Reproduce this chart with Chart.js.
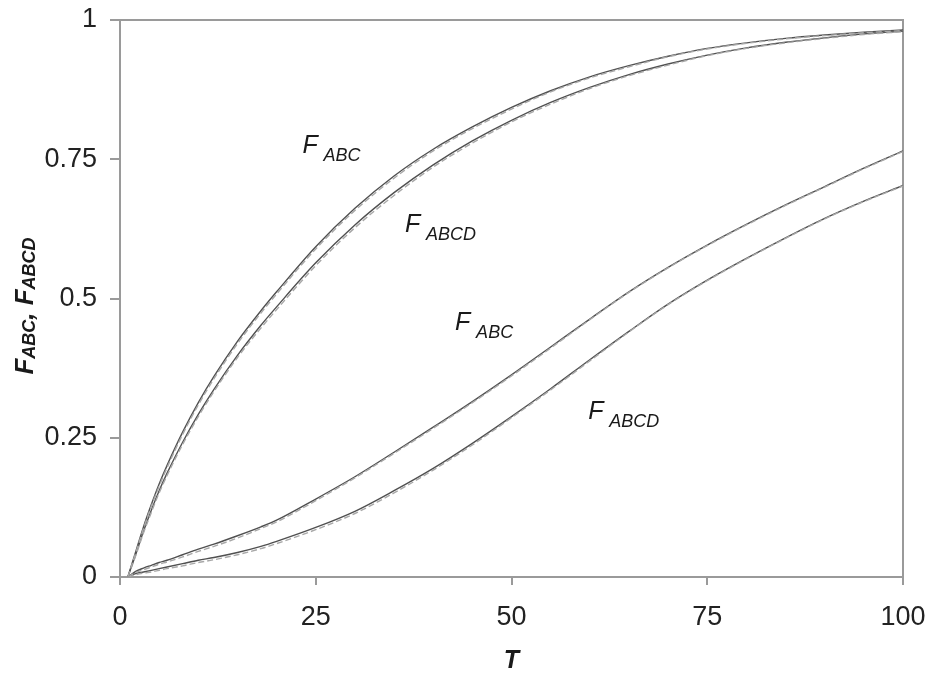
<!DOCTYPE html>
<html>
<head>
<meta charset="utf-8">
<script src="https://cdn.jsdelivr.net/npm/chart.js@4.4.1/dist/chart.umd.min.js"></script>
<style>
  html, body { margin: 0; padding: 0; background: #ffffff; }
  #wrap { width: 925px; height: 675px; position: relative; }
</style>
</head>
<body>
<div id="wrap"><canvas id="c" width="925" height="675"></canvas></div>
<script>
// ---- Data ----
const tValues = [1, 2, 3, 4, 5, 6, 8, 10, 12, 15, 18, 20, 25, 30, 35, 40, 45, 50, 55, 60, 65, 70, 75, 80, 85, 90, 95, 100];

const upperAbcSolid  = [0, 0.045, 0.090, 0.130, 0.167, 0.200, 0.260, 0.313, 0.360, 0.423, 0.478, 0.512, 0.593, 0.662, 0.720, 0.768, 0.808, 0.843, 0.873, 0.898, 0.918, 0.935, 0.949, 0.959, 0.967, 0.973, 0.978, 0.982];
const upperAbcDashed = [0, 0.043, 0.087, 0.127, 0.163, 0.196, 0.256, 0.309, 0.356, 0.419, 0.474, 0.508, 0.589, 0.658, 0.716, 0.765, 0.805, 0.840, 0.871, 0.896, 0.916, 0.934, 0.948, 0.958, 0.966, 0.972, 0.977, 0.981];

const upperAbcdSolid  = [0, 0.040, 0.082, 0.120, 0.155, 0.186, 0.242, 0.292, 0.337, 0.398, 0.452, 0.485, 0.564, 0.632, 0.690, 0.740, 0.783, 0.820, 0.852, 0.879, 0.902, 0.921, 0.937, 0.950, 0.960, 0.968, 0.975, 0.980];
const upperAbcdDashed = [0, 0.038, 0.079, 0.116, 0.151, 0.182, 0.238, 0.288, 0.333, 0.394, 0.447, 0.480, 0.559, 0.627, 0.685, 0.736, 0.779, 0.817, 0.849, 0.877, 0.900, 0.919, 0.936, 0.949, 0.959, 0.967, 0.974, 0.979];

const lowerAbcSolid  = [0, 0.010, 0.016, 0.021, 0.026, 0.030, 0.040, 0.050, 0.059, 0.074, 0.090, 0.102, 0.140, 0.180, 0.224, 0.269, 0.315, 0.363, 0.413, 0.463, 0.512, 0.556, 0.596, 0.633, 0.668, 0.701, 0.734, 0.765];
const lowerAbcDashed = [0, 0.008, 0.013, 0.018, 0.023, 0.027, 0.036, 0.046, 0.055, 0.070, 0.087, 0.099, 0.137, 0.178, 0.222, 0.267, 0.313, 0.361, 0.411, 0.462, 0.511, 0.555, 0.595, 0.632, 0.667, 0.700, 0.733, 0.764];

const lowerAbcdSolid  = [0, 0.006, 0.009, 0.012, 0.015, 0.018, 0.024, 0.030, 0.035, 0.044, 0.055, 0.064, 0.089, 0.118, 0.155, 0.195, 0.240, 0.288, 0.338, 0.390, 0.441, 0.490, 0.533, 0.572, 0.609, 0.644, 0.675, 0.703];
const lowerAbcdDashed = [0, 0.004, 0.007, 0.009, 0.012, 0.015, 0.020, 0.026, 0.031, 0.040, 0.051, 0.060, 0.085, 0.114, 0.151, 0.192, 0.237, 0.286, 0.336, 0.388, 0.440, 0.489, 0.532, 0.571, 0.608, 0.643, 0.674, 0.702];

const xTickLabels = ['0', '25', '50', '75', '100'];
const yTickLabels = ['0', '0.25', '0.5', '0.75', '1'];
const xTickValues = [0, 25, 50, 75, 100];
const yTickValues = [0, 0.25, 0.5, 0.75, 1];

const curveLabelMain = ['F', 'F', 'F', 'F'];
const curveLabelSub  = ['ABC', 'ABCD', 'ABC', 'ABCD'];
const curveLabelT    = [23.3, 36.4, 42.8, 59.8];
const curveLabelF    = [0.761, 0.620, 0.443, 0.283];

// ---- Build chart ----
const FONT = '"Liberation Sans", Arial, Helvetica, sans-serif';

function pts(arr) { return tValues.map((t, i) => ({ x: t, y: arr[i] })); }
function solid(arr, label) {
  return { label, data: pts(arr), showLine: true, borderColor: '#505050', borderWidth: 1.4,
           pointRadius: 0, fill: false, cubicInterpolationMode: 'monotone' };
}
function dashed(arr, label) {
  return { label, data: pts(arr), showLine: true, borderColor: '#a8a8a8', borderWidth: 1.4,
           borderDash: [6, 3], pointRadius: 0, fill: false, cubicInterpolationMode: 'monotone' };
}

const framePlugin = {
  id: 'frame',
  beforeDatasetsDraw(chart) {
    const { ctx, chartArea: a } = chart;
    ctx.save();
    ctx.strokeStyle = '#9a9a9a';
    ctx.lineWidth = 2;
    ctx.strokeRect(a.left, a.top, a.right - a.left, a.bottom - a.top);
    ctx.restore();
  }
};

const textPlugin = {
  id: 'texts',
  afterDraw(chart) {
    const { ctx, scales } = chart;
    const xs = scales.x, ys = scales.y;
    ctx.save();
    ctx.fillStyle = '#1a1a1a';
    ctx.textBaseline = 'alphabetic';
    ctx.textAlign = 'left';
    // curve annotations
    for (let i = 0; i < curveLabelMain.length; i++) {
      const px = xs.getPixelForValue(curveLabelT[i]);
      const py = ys.getPixelForValue(curveLabelF[i]);
      ctx.font = 'italic 25px ' + FONT;
      ctx.fillText(curveLabelMain[i], px, py);
      ctx.font = 'italic 18px ' + FONT;
      ctx.fillText(curveLabelSub[i], px + 21, py + 8);
    }
    // x axis title
    ctx.font = 'italic bold 25px ' + FONT;
    ctx.textAlign = 'center';
    ctx.fillText('T', (xs.left + xs.right) / 2, 668);
    // y axis title (rotated) with subscripts
    const parts = [
      { t: 'F', big: true }, { t: 'ABC', big: false }, { t: ', ', big: true },
      { t: 'F', big: true }, { t: 'ABCD', big: false }
    ];
    const fBig = 'italic bold 26px ' + FONT;
    const fSmall = 'italic bold 18px ' + FONT;
    let total = 0;
    parts.forEach(p => { ctx.font = p.big ? fBig : fSmall; p.w = ctx.measureText(p.t).width; total += p.w; });
    const cy = 306;
    ctx.translate(33, cy);
    ctx.rotate(-Math.PI / 2);
    ctx.textAlign = 'left';
    let cx = -total / 2;
    parts.forEach(p => {
      ctx.font = p.big ? fBig : fSmall;
      ctx.fillText(p.t, cx, p.big ? 0 : 2);
      cx += p.w;
    });
    ctx.restore();
  }
};

new Chart(document.getElementById('c'), {
  type: 'scatter',
  data: {
    datasets: [
      dashed(upperAbcDashed, 'F_ABC upper (dashed)'),
      solid(upperAbcSolid, 'F_ABC upper'),
      dashed(upperAbcdDashed, 'F_ABCD upper (dashed)'),
      solid(upperAbcdSolid, 'F_ABCD upper'),
      dashed(lowerAbcDashed, 'F_ABC lower (dashed)'),
      solid(lowerAbcSolid, 'F_ABC lower'),
      dashed(lowerAbcdDashed, 'F_ABCD lower (dashed)'),
      solid(lowerAbcdSolid, 'F_ABCD lower')
    ]
  },
  options: {
    responsive: false,
    animation: false,
    devicePixelRatio: 1,
    layout: { padding: { left: 0, right: 22, top: 20, bottom: 0 } },
    plugins: { legend: { display: false }, tooltip: { enabled: false } },
    scales: {
      x: {
        type: 'linear', min: 0, max: 100,
        afterBuildTicks(scale) { scale.ticks = xTickValues.map(v => ({ value: v })); },
        afterFit(scale) { scale.height = 98; scale.paddingLeft = 0; scale.paddingRight = 0; },
        border: { display: false },
        grid: { display: true, drawOnChartArea: false, drawTicks: true, tickLength: 8, color: '#9a9a9a', lineWidth: 2 },
        ticks: {
          padding: 16, color: '#222', font: { family: FONT, size: 27 }, maxRotation: 0,
          callback(v) { const i = xTickValues.indexOf(v); return i >= 0 ? xTickLabels[i] : ''; }
        }
      },
      y: {
        type: 'linear', min: 0, max: 1,
        afterBuildTicks(scale) { scale.ticks = yTickValues.map(v => ({ value: v })); },
        afterFit(scale) { scale.width = 120; scale.paddingTop = 0; scale.paddingBottom = 0; },
        border: { display: false },
        grid: { display: true, drawOnChartArea: false, drawTicks: true, tickLength: 10, color: '#9a9a9a', lineWidth: 2 },
        ticks: {
          padding: 13, color: '#222', font: { family: FONT, size: 27 },
          callback(v) { const i = yTickValues.indexOf(v); return i >= 0 ? yTickLabels[i] : ''; }
        }
      }
    }
  },
  plugins: [framePlugin, textPlugin]
});
</script>
</body>
</html>
